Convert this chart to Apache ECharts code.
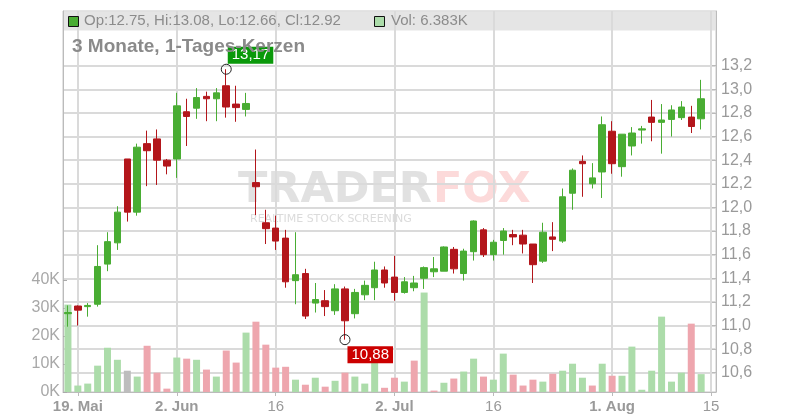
<!DOCTYPE html>
<html><head><meta charset="utf-8">
<script src="https://cdn.jsdelivr.net/npm/echarts@6/dist/echarts.min.js"></script>
<style>html,body{margin:0;padding:0;background:#fff}#c{width:800px;height:420px}</style>
</head><body><div id="c"></div>
<script>
// trading-day categories (last one is an empty slot)
const dates = [
 '2025-05-16','2025-05-19','2025-05-20','2025-05-21','2025-05-22','2025-05-23','2025-05-26','2025-05-27','2025-05-28','2025-05-29','2025-05-30',
 '2025-06-02','2025-06-03','2025-06-04','2025-06-05','2025-06-06','2025-06-09','2025-06-10','2025-06-11','2025-06-12','2025-06-13',
 '2025-06-16','2025-06-17','2025-06-18','2025-06-19','2025-06-20','2025-06-23','2025-06-24','2025-06-25','2025-06-26','2025-06-27','2025-06-30',
 '2025-07-01','2025-07-02','2025-07-03','2025-07-04','2025-07-07','2025-07-08','2025-07-09','2025-07-10','2025-07-11',
 '2025-07-14','2025-07-15','2025-07-16','2025-07-17','2025-07-18','2025-07-21','2025-07-22','2025-07-23','2025-07-24','2025-07-25',
 '2025-07-28','2025-07-29','2025-07-30','2025-07-31','2025-08-01','2025-08-04','2025-08-05','2025-08-06','2025-08-07','2025-08-08',
 '2025-08-11','2025-08-12','2025-08-13','2025-08-14','2025-08-15'];
const opens  = [11.10,11.165,11.16,11.18,11.52,11.70,12.41,11.96,12.54,12.58,12.40,12.41,12.81,12.84,12.94,12.92,13.03,12.875,12.83,12.21,11.87,11.825,11.74,11.38,11.44,11.19,11.21,11.125,11.31,11.10,11.26,11.32,11.47,11.41,11.28,11.32,11.40,11.455,11.46,11.645,11.44,11.625,11.81,11.60,11.72,11.77,11.765,11.69,11.545,11.75,11.715,12.12,12.39,12.20,12.30,12.645,12.345,12.52,12.655,12.765,12.72,12.745,12.76,12.765,12.75];
const closes = [11.11,11.13,11.17,11.50,11.71,11.96,11.96,12.51,12.48,12.40,12.35,12.86,12.77,12.93,12.92,12.97,12.85,12.845,12.88,12.175,11.82,11.715,11.37,11.43,11.08,11.22,11.16,11.31,11.04,11.28,11.34,11.47,11.36,11.28,11.37,11.36,11.49,11.48,11.665,11.48,11.63,11.885,11.60,11.705,11.80,11.75,11.69,11.515,11.79,11.73,12.09,12.315,12.37,12.25,12.70,12.37,12.62,12.63,12.665,12.72,12.74,12.825,12.85,12.685,12.92];
const lows   = [10.99,11.00,11.075,11.16,11.46,11.64,11.88,11.93,12.18,12.19,12.28,12.25,12.52,12.75,12.73,12.73,12.76,12.725,12.77,11.935,11.69,11.64,11.32,11.18,11.055,11.11,11.08,11.09,10.88,11.06,11.215,11.215,11.32,11.21,11.27,11.29,11.31,11.41,11.46,11.44,11.38,11.55,11.58,11.55,11.60,11.68,11.61,11.36,11.53,11.63,11.70,11.98,12.09,12.16,12.08,12.285,12.26,12.44,12.54,12.56,12.455,12.60,12.74,12.63,12.66];
const highs  = [11.17,11.17,11.19,11.68,11.79,12.01,12.41,12.54,12.65,12.66,12.41,12.97,12.92,13.01,12.98,13.01,13.17,13.03,12.97,12.49,11.98,11.93,11.81,11.79,11.48,11.36,11.30,11.35,11.33,11.31,11.38,11.54,11.50,11.59,11.41,11.42,11.50,11.58,11.67,11.665,11.65,11.89,11.825,11.725,11.825,11.81,11.81,11.69,11.87,11.875,12.16,12.33,12.44,12.375,12.77,12.73,12.62,12.68,12.69,12.91,12.875,12.865,12.90,12.86,13.08];
// volume in thousands
const volumes = [31.2,2.3,3.0,9.4,15.8,11.5,7.6,5.5,16.5,6.9,1.2,12.3,11.9,11.5,8.0,5.5,14.8,10.5,21.2,25.1,16.9,8.7,9.0,4.4,2.6,5.1,1.9,4.0,6.9,5.5,3.0,12.5,1.5,5.1,3.7,11.2,35.5,0.5,3.3,4.8,7.3,11.9,5.5,4.4,13.7,6.2,2.3,4.4,3.7,6.5,7.6,10.1,5.1,2.3,10.1,5.8,5.8,16.2,0.8,7.6,26.9,3.7,6.9,24.4,6.383];
const tickDates = ['2025-05-19','2025-06-02','2025-06-16','2025-07-02','2025-07-16','2025-08-01','2025-08-15'];
const tickTexts = ['19. Mai','2. Jun','16','2. Jul','16','1. Aug','15'];
const priceTicks = [10.6,10.8,11.0,11.2,11.4,11.6,11.8,12.0,12.2,12.4,12.6,12.8,13.0,13.2];
const volumeTicks = [0,10,20,30,40];

const UP='#49ad33', DOWN='#b3161b';
const VUP='#acdcaa', VDOWN='#eea6ae', VFLAT='#bdbdbd';

const candleData = opens.map((o,i)=>[o, closes[i], lows[i], highs[i]]);
const volData = volumes.map((v,i)=>{
  const prev = i>0 ? closes[i-1] : closes[i]-1;
  const c = closes[i] > prev + 1e-9 ? VUP : (closes[i] < prev - 1e-9 ? VDOWN : VFLAT);
  return {value: v, itemStyle: {color: c}};
});
const hi = Math.max(...highs), lo = Math.min(...lows);
const hiIdx = highs.indexOf(hi), loIdx = lows.indexOf(lo);
const fmt = v => v.toFixed(2).replace('.', ',');
const isTick = (idx, val) => tickDates.indexOf(val) >= 0;
const last = opens.length - 1;

const chart = echarts.init(document.getElementById('c'), null, {renderer:'canvas'});
const FONT = '"Liberation Sans", Arial, sans-serif';
chart.setOption({
  animation: false,
  textStyle: {fontFamily: FONT},
  grid: {left: 63, right: 84, top: 11, bottom: 28, show: true, borderColor: '#c8c8c8', borderWidth: 1, backgroundColor: 'transparent'},
  xAxis: {
    type: 'category', data: dates, boundaryGap: true,
    axisLine: {lineStyle: {color: '#bbbbbb'}},
    axisTick: {show: true, alignWithLabel: true, interval: isTick, length: 4, lineStyle: {color: '#bbbbbb'}},
    axisLabel: {
      interval: isTick, margin: 7,
      formatter: v => { const k = tickDates.indexOf(v); if (k < 0) return ''; const t = tickTexts[k]; return t.indexOf('.') >= 0 ? '{b|' + t + '}' : '{n|' + t + '}'; },
      rich: {b: {fontWeight: 'bold', fontSize: 15, color: '#9a9a9a', fontFamily: FONT}, n: {fontSize: 15, color: '#9a9a9a', fontFamily: FONT}}
    },
    splitLine: {show: true, interval: isTick, alignWithLabel: true, lineStyle: {color: '#dadada', width: 2}}
  },
  yAxis: [{
    type: 'value', position: 'right', min: 10.437, max: 13.663, scale: true,
    axisLine: {show: true, lineStyle: {color: '#bbbbbb'}},
    axisTick: {show: true, inside: true, length: 4, customValues: priceTicks, lineStyle: {color: '#bbbbbb'}},
    axisLabel: {customValues: priceTicks, formatter: v => v.toFixed(1).replace('.', ','), color: '#9a9a9a', fontSize: 16, margin: 5},
    splitLine: {show: true, lineStyle: {color: '#dadada', width: 2}}
  }, {
    type: 'value', position: 'left', min: 0, max: 136,
    axisLine: {show: true, lineStyle: {color: '#bbbbbb'}},
    axisTick: {show: true, inside: true, length: 4, customValues: volumeTicks, lineStyle: {color: '#aaaaaa'}},
    axisLabel: {customValues: volumeTicks, formatter: v => v + 'K', color: '#a8a8a8', fontSize: 16, margin: 3},
    splitLine: {show: false}
  }],
  graphic: [
    {type: 'rect', z: 0, silent: true, shape: {x: 63.5, y: 11.5, width: 652, height: 19}, style: {fill: 'rgba(222,222,222,0.8)'}},
    {type: 'rect', z: 10, shape: {x: 68.5, y: 16.5, width: 10, height: 10}, style: {fill: UP, stroke: '#111', lineWidth: 1}},
    {type: 'text', z: 10, x: 84, y: 21, style: {text: 'Op:' + opens[last].toFixed(2) + ', Hi:' + highs[last].toFixed(2) + ', Lo:' + lows[last].toFixed(2) + ', Cl:' + closes[last].toFixed(2), fill: '#8c8c8c', font: '15px ' + FONT, verticalAlign: 'middle'}},
    {type: 'rect', z: 10, shape: {x: 374.5, y: 16.5, width: 10, height: 10}, style: {fill: VUP, stroke: '#111', lineWidth: 1}},
    {type: 'text', z: 10, x: 391, y: 21, style: {text: 'Vol: ' + volumes[last].toFixed(3) + 'K', fill: '#8c8c8c', font: '15px ' + FONT, verticalAlign: 'middle'}},
    {type: 'text', z: 10, x: 72, y: 47, style: {text: '3 Monate, 1-Tages-Kerzen', fill: '#8a8a8a', font: 'bold 19px ' + FONT, verticalAlign: 'middle'}},
    {type: 'text', z: 0, silent: true, x: 238, y: 191, style: {text: 'TRADER', fill: 'rgba(195,195,195,0.5)', font: 'bold 43px "DejaVu Sans", sans-serif', verticalAlign: 'middle'}},
    {type: 'text', z: 0, silent: true, x: 433, y: 191, style: {text: 'FOX', fill: 'rgba(245,150,150,0.35)', font: 'bold 43px "DejaVu Sans", sans-serif', verticalAlign: 'middle'}},
    {type: 'text', z: 0, silent: true, x: 250, y: 219, style: {text: 'REALTIME STOCK SCREENING', fill: 'rgba(195,195,195,0.6)', font: '11px "DejaVu Sans", sans-serif', verticalAlign: 'middle'}}
  ],
  series: [{
    type: 'bar', name: 'Vol', xAxisIndex: 0, yAxisIndex: 1, barWidth: 7, z: 1, data: volData
  }, {
    type: 'candlestick', name: 'Kurs', xAxisIndex: 0, yAxisIndex: 0, barWidth: 7, z: 3,
    itemStyle: {color: UP, color0: DOWN, borderColor: UP, borderColor0: DOWN, borderWidth: 1},
    data: candleData,
    markPoint: {
      symbol: 'circle', symbolSize: 10, z: 5,
      itemStyle: {color: 'rgba(255,255,255,0)', borderColor: '#222', borderWidth: 1},
      data: [
        {coord: [dates[hiIdx], hi], value: hi, label: {show: true, formatter: fmt(hi), position: [7, 0], align: 'left', verticalAlign: 'bottom', color: '#fff', fontSize: 15, backgroundColor: '#0a990a', padding: [1, 4, 1, 4]}},
        {coord: [dates[loIdx], lo], value: lo, label: {show: true, formatter: fmt(lo), position: [8, 12], align: 'left', verticalAlign: 'top', color: '#fff', fontSize: 15, backgroundColor: '#cc0000', padding: [1, 4, 1, 4]}}
      ]
    }
  }]
});
</script>
</body></html>
